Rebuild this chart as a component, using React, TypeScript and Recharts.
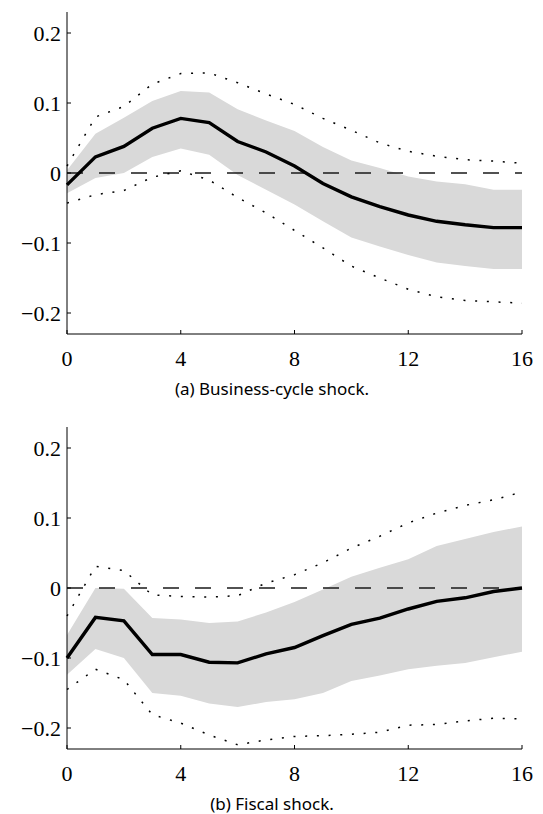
import React from 'react';
import { ComposedChart, Area, Line, XAxis, YAxis, ReferenceLine } from 'recharts';

const horizons = [0, 1, 2, 3, 4, 5, 6, 7, 8, 9, 10, 11, 12, 13, 14, 15, 16];
const xTicks = [0, 4, 8, 12, 16];
const yTicks = [-0.2, -0.1, 0, 0.1, 0.2];

// (a) business-cycle shock
const bcMedian = [-0.017, 0.023, 0.038, 0.064, 0.078, 0.072, 0.045, 0.03, 0.01, -0.015, -0.034, -0.048, -0.06, -0.069, -0.074, -0.078, -0.078];
const bcBandLo = [-0.029, -0.007, 0.0, 0.023, 0.035, 0.026, -0.003, -0.024, -0.045, -0.069, -0.092, -0.105, -0.117, -0.128, -0.133, -0.137, -0.137];
const bcBandHi = [0.004, 0.056, 0.079, 0.103, 0.117, 0.115, 0.091, 0.075, 0.06, 0.037, 0.018, 0.007, -0.005, -0.012, -0.016, -0.024, -0.024];
const bcDotLo = [-0.043, -0.031, -0.025, -0.006, 0.003, -0.01, -0.035, -0.057, -0.082, -0.107, -0.133, -0.15, -0.166, -0.177, -0.182, -0.184, -0.186];
const bcDotHi = [0.01, 0.08, 0.095, 0.127, 0.142, 0.143, 0.129, 0.113, 0.098, 0.078, 0.061, 0.043, 0.031, 0.024, 0.019, 0.017, 0.014];

// (b) fiscal shock
const fsMedian = [-0.1, -0.042, -0.047, -0.095, -0.095, -0.106, -0.107, -0.094, -0.085, -0.068, -0.052, -0.043, -0.03, -0.019, -0.014, -0.005, 0.0];
const fsBandLo = [-0.124, -0.087, -0.1, -0.15, -0.154, -0.165, -0.17, -0.163, -0.159, -0.15, -0.133, -0.125, -0.116, -0.111, -0.107, -0.099, -0.091];
const fsBandHi = [-0.067, 0.0, -0.001, -0.043, -0.045, -0.05, -0.048, -0.035, -0.02, -0.002, 0.016, 0.029, 0.041, 0.06, 0.07, 0.08, 0.088];
const fsDotLo = [-0.145, -0.116, -0.131, -0.181, -0.193, -0.21, -0.224, -0.217, -0.212, -0.211, -0.209, -0.206, -0.196, -0.195, -0.19, -0.186, -0.187];
const fsDotHi = [-0.04, 0.031, 0.025, -0.01, -0.012, -0.013, -0.011, 0.007, 0.019, 0.036, 0.057, 0.074, 0.093, 0.107, 0.118, 0.126, 0.137];

const serif = "'Liberation Serif', 'Times New Roman', serif";

const XTick = (props: any) => {
  const { x, y, payload } = props;
  return (
    <g>
      <line x1={x} x2={x} y1={y} y2={y - 4} stroke="#000" />
      <text x={x} y={y + 32} textAnchor="middle" fontFamily={serif} fontSize={22} fill="#000">
        {payload.value}
      </text>
    </g>
  );
};

const YTick = (props: any) => {
  const { x, y, payload } = props;
  const v = payload.value;
  const label = v === 0 ? '0' : v < 0 ? '\u2212' + Math.abs(v) : String(v);
  return (
    <g>
      <line x1={x} x2={x + 4} y1={y} y2={y} stroke="#000" />
      <text x={x - 6} y={y} dy="0.35em" textAnchor="end" fontFamily={serif} fontSize={22} fill="#000">
        {label}
      </text>
    </g>
  );
};

const Panel = ({ top, caption, median, bandLo, bandHi, dotLo, dotHi }: any) => {
  const data = horizons.map((h, i) => ({
    h,
    median: median[i],
    band: [bandLo[i], bandHi[i]],
    dotLo: dotLo[i],
    dotHi: dotHi[i],
  }));
  return (
    <>
      <div style={{ position: 'absolute', left: 0, top }}>
        <ComposedChart width={543} height={370} data={data} margin={{ top: 12, right: 21, left: 0, bottom: 6 }}>
          <XAxis
            dataKey="h"
            type="number"
            domain={[0, 16]}
            ticks={xTicks}
            height={30}
            tickSize={0}
            tickMargin={0}
            tickLine={false}
            axisLine={{ stroke: '#000' }}
            tick={XTick}
          />
          <YAxis
            type="number"
            domain={[-0.23, 0.23]}
            ticks={yTicks}
            allowDataOverflow
            width={67}
            tickSize={0}
            tickMargin={0}
            tickLine={false}
            axisLine={{ stroke: '#000' }}
            tick={YTick}
          />
          <Area dataKey="band" type="linear" fill="#d9d9d9" fillOpacity={1} stroke="none" isAnimationActive={false} />
          <ReferenceLine y={0} stroke="#1a1a1a" strokeWidth={1.3} strokeDasharray="16 16" />
          <Line dataKey="dotHi" type="linear" stroke="#000" strokeWidth={1.5} strokeDasharray="2 9.7" dot={false} isAnimationActive={false} />
          <Line dataKey="dotLo" type="linear" stroke="#000" strokeWidth={1.5} strokeDasharray="2 9.7" dot={false} isAnimationActive={false} />
          <Line dataKey="median" type="linear" stroke="#000" strokeWidth={3.4} dot={false} isAnimationActive={false} />
        </ComposedChart>
      </div>
      <div
        style={{
          position: 'absolute',
          left: 0,
          width: 544,
          top: top + 377,
          textAlign: 'center',
          fontFamily: "'Noto Sans', sans-serif",
          fontSize: 17,
          color: '#000',
        }}
      >
        {caption}
      </div>
    </>
  );
};

const App: React.FC = () => (
  <div style={{ position: 'absolute', left: 0, top: 0, width: 543, height: 814, background: '#fff' }}>
    <Panel top={0} caption="(a) Business-cycle shock." median={bcMedian} bandLo={bcBandLo} bandHi={bcBandHi} dotLo={bcDotLo} dotHi={bcDotHi} />
    <Panel top={415} caption="(b) Fiscal shock." median={fsMedian} bandLo={fsBandLo} bandHi={fsBandHi} dotLo={fsDotLo} dotHi={fsDotHi} />
  </div>
);

export default App;
